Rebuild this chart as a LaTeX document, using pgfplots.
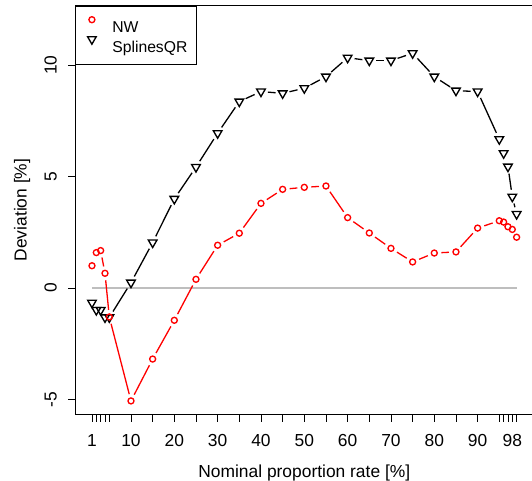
\documentclass[border=0pt]{standalone}
\usepackage{fontspec}
\setmainfont{Liberation Sans}
\usepackage{pgfplots}
\pgfplotsset{compat=1.18}
\usepackage{pgfplotstable}

% NW estimator
\pgfplotstableread{
x y
1 1.00
2 1.59
3 1.68
4 0.66
5 -1.30
10 -5.07
15 -3.19
20 -1.45
25 0.39
30 1.92
35 2.46
40 3.80
45 4.43
50 4.52
55 4.58
60 3.16
65 2.47
70 1.78
75 1.17
80 1.57
85 1.62
90 2.69
95 3.02
96 2.96
97 2.75
98 2.63
99 2.28
}\nwdata

% SplinesQR
\pgfplotstableread{
x y
1 -0.66
2 -0.99
3 -0.99
4 -1.32
5 -1.32
10 0.24
15 2.04
20 4.00
25 5.43
30 6.95
35 8.37
40 8.82
45 8.74
50 8.97
55 9.49
60 10.34
65 10.21
70 10.21
75 10.54
80 9.49
85 8.86
90 8.82
95 6.68
96 6.05
97 5.45
98 4.10
99 3.32
}\sqrdata

\definecolor{zerogrey}{RGB}{190,190,190}

\pgfplotsset{
  seg/.style={forget plot, no markers, line width=1.3pt,
    shorten <=7pt, shorten >=7pt,
    x filter/.expression={(\coordindex<#1 || \coordindex>#1+1) ? nan : x}},
  legmark/.style={legend image code/.code={%
    \path (-7pt,0pt) (7pt,0pt);
    \draw[##1] plot coordinates {(0pt,5.6pt)};}},
  nwmark/.style={only marks, red, mark=o, mark size=3pt,
    mark options={line width=1.35pt}},
  sqrmark/.style={only marks, black, mark=triangle, mark size=5pt,
    mark options={rotate=180, line width=1.35pt}},
}

\begin{document}
\begin{tikzpicture}
\path[use as bounding box] (0,0) rectangle (532pt,481pt);
\begin{axis}[
  at={(75pt,66.5pt)}, anchor=south west,
  scale only axis, width=458.6pt, height=408.9pt,
  xmin=-2.92, xmax=102.92, ymin=-5.68, ymax=12.68,
  axis line style={line width=0.9pt},
  tick align=outside, major tick length=7pt,
  tick style={line width=0.9pt, black},
  tick pos=left,
  xtick={1,2,3,4,5,10,15,20,25,30,35,40,45,50,55,60,65,70,75,80,85,90,95,96,97,98,99},
  xticklabels={1,{},{},{},{},10,{},20,{},30,{},40,{},50,{},60,{},70,{},80,{},90,{},{},{},98,{}},
  ytick={-5,0,5,10},
  yticklabels={-5,0,5,10},
  tick label style={font=\fontsize{17.4}{20}\selectfont},
  xticklabel style={anchor=base, yshift=-25pt},
  yticklabel style={xshift=-11.3pt, rotate=90, anchor=base},
  xlabel={Nominal proportion rate [\%]},
  ylabel={Deviation [\%]},
  label style={font=\fontsize{17.4}{20}\selectfont},
  xlabel style={at={(axis description cs:0.5,-0.1536)}, anchor=base},
  ylabel style={at={(axis description cs:-0.1053,0.5)}, anchor=base},
  legend style={at={(0,1)}, anchor=north west, draw=black, line width=0.9pt,
    inner xsep=9pt, inner ysep=9.5pt, row sep=0pt, column sep=13pt,
    font=\fontsize{15.7}{18}\selectfont,
    nodes={inner sep=0pt, text height=17.1pt, text depth=2.4pt}},
  legend cell align=left,
]
\addplot[forget plot, zerogrey, line width=1.2pt] coordinates {(1,0) (99,0)};

% SplinesQR: segments with gaps, then markers
\pgfplotsinvokeforeach{4,...,21}{\addplot[seg=#1, black] table {\sqrdata};}
\pgfplotsinvokeforeach{24,25}{\addplot[seg=#1, black] table {\sqrdata};}
\addplot[sqrmark, forget plot] table {\sqrdata};

% NW: segments with gaps, then markers
\pgfplotsinvokeforeach{2,...,21}{\addplot[seg=#1, red] table {\nwdata};}
\addplot[nwmark, forget plot] table {\nwdata};

\addlegendimage{nwmark, legmark}
\addlegendentry{NW}
\addlegendimage{sqrmark, legmark}
\addlegendentry{SplinesQR}
\end{axis}
\end{tikzpicture}
\end{document}
